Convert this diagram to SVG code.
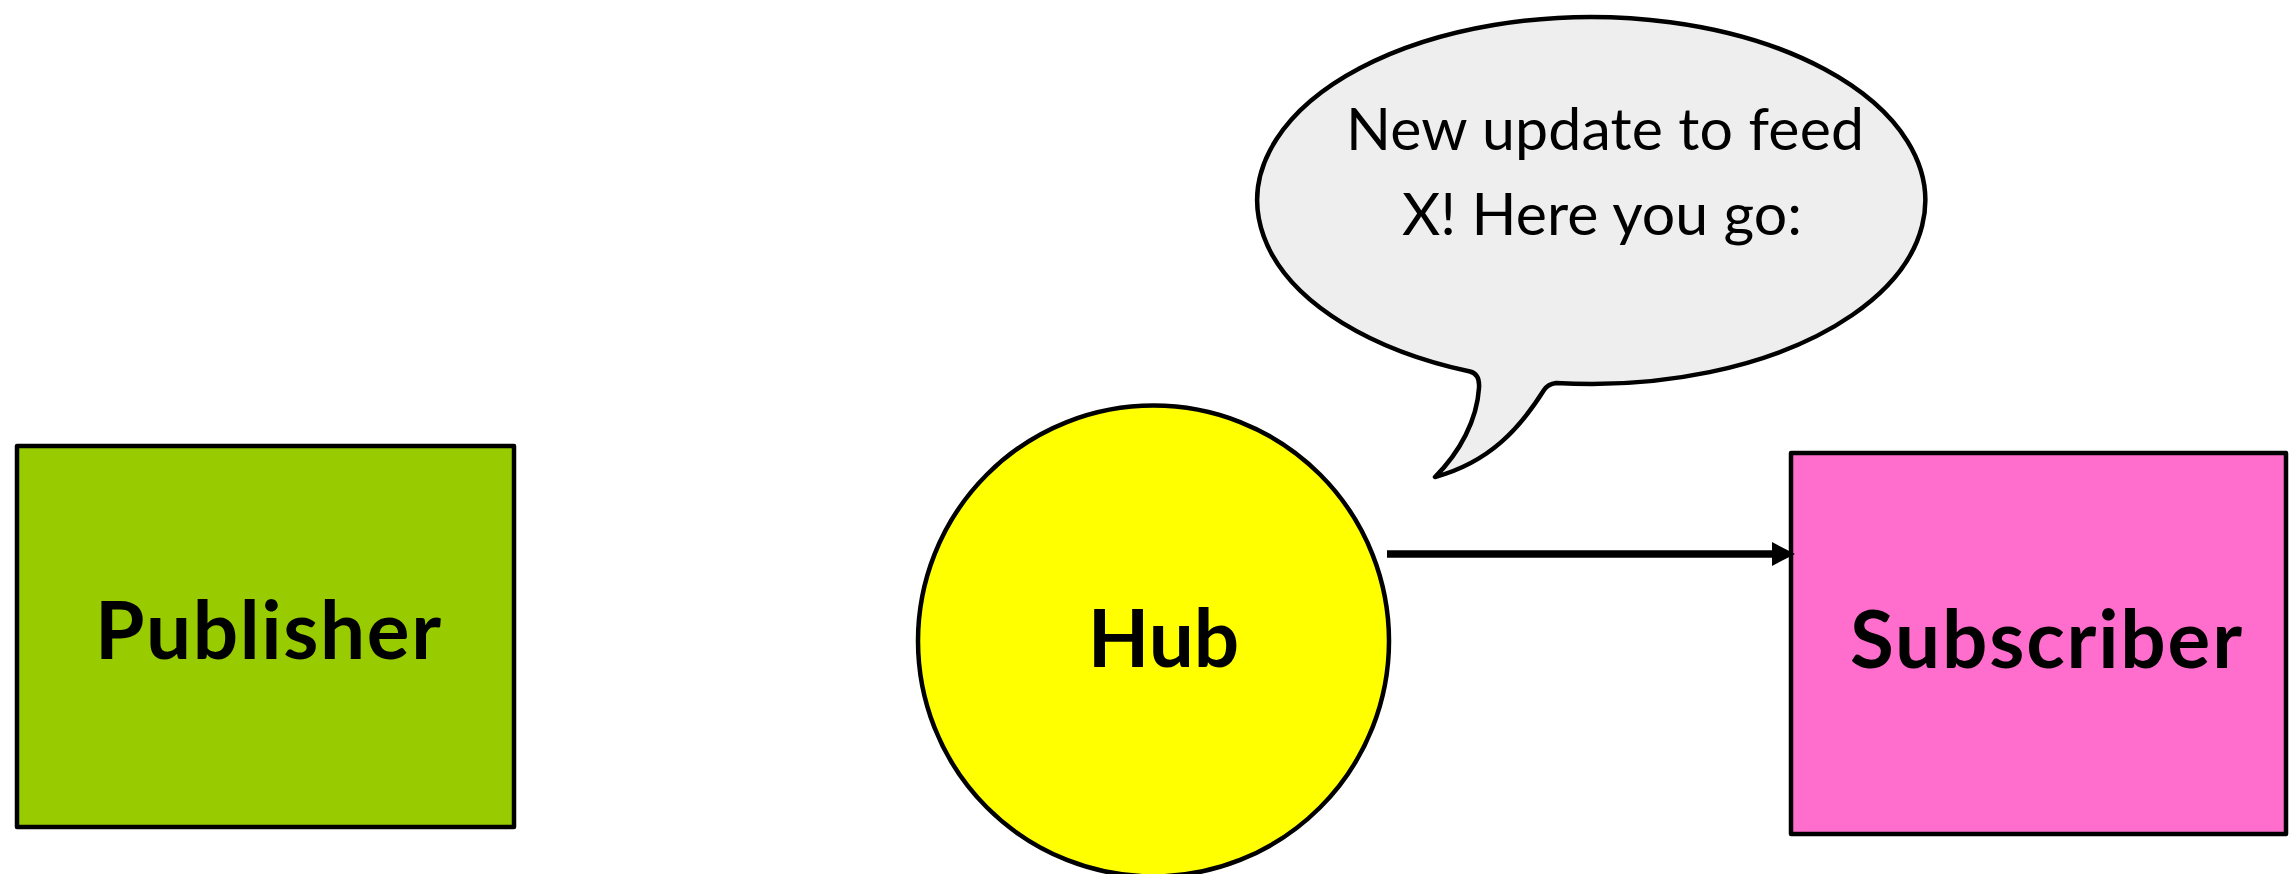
<svg xmlns="http://www.w3.org/2000/svg" width="2290" height="874" viewBox="0 0 2290 874">
  <style>
    .box { stroke: #000; stroke-width: 4.5; stroke-linejoin: round; }
    .label { font-family: Lato, "Open Sans", "Liberation Sans", sans-serif; font-weight: bold; font-size: 80px; fill: #000; text-anchor: middle; }
    .speech { font-family: Lato, "Open Sans", "Liberation Sans", sans-serif; font-size: 59px; fill: #000; text-anchor: middle; }
    .link { stroke: #000; stroke-width: 7.5; fill: none; }
  </style>
  <defs>
    <marker id="arrowhead" markerUnits="userSpaceOnUse" markerWidth="24" markerHeight="24" refX="8" refY="12" orient="auto">
      <path d="M0,0 L23,12 L0,24 Z" fill="#000"/>
    </marker>
  </defs>

  <rect width="2290" height="874" fill="#fff"/>

  <!-- Publisher -->
  <g id="publisher">
    <rect class="box" x="17" y="446" width="497" height="381" fill="#99cc00"/>
    <text class="label" x="268" y="659" textLength="346">Publisher</text>
  </g>

  <!-- Hub -->
  <g id="hub">
    <circle class="box" cx="1153.5" cy="641" r="235.5" fill="#ffff00"/>
    <text class="label" x="1163.5" y="667">Hub</text>
  </g>

  <!-- Subscriber -->
  <g id="subscriber">
    <rect class="box" x="1791" y="453" width="495" height="381" fill="#ff6ecc"/>
    <text class="label" x="2046" y="668" textLength="392">Subscriber</text>
  </g>

  <!-- Speech bubble from the hub -->
  <g id="bubble">
    <path class="box" fill="#eeeeee" d="M1470,371.5 Q1480,374 1479,388 C1477,420 1460,452 1435,477 C1490,462 1520,428 1544,390 Q1548,384 1556,383 A334,183.5 0 1 0 1470,371.5 Z"/>
    <text class="speech" x="1605" y="150" textLength="518">New update to feed</text>
    <text class="speech" x="1602" y="235" textLength="400">X! Here you go:</text>
  </g>

  <!-- Connectors -->
  <g id="connectors">
    <line class="link" x1="1387" y1="554" x2="1780" y2="554" marker-end="url(#arrowhead)"/>
  </g>
</svg>
